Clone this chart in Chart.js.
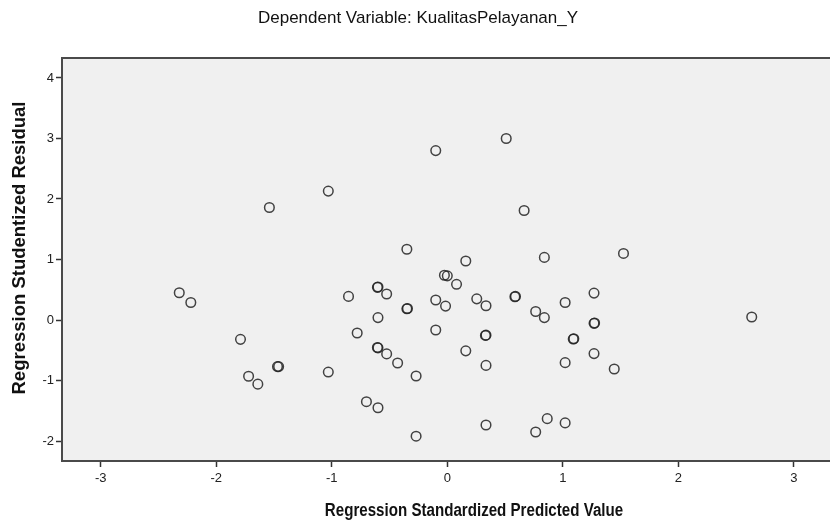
<!DOCTYPE html>
<html>
<head>
<meta charset="utf-8">
<script src="https://cdn.jsdelivr.net/npm/chart.js@4"></script>
<style>
  html, body { margin: 0; padding: 0; background: #fff; overflow: hidden; }
  canvas { display: block; }
</style>
</head>
<body>
<canvas id="chartResidual" width="830" height="527"></canvas>
<script>
// standardized predicted value (x) and studentized residual (y)
var predicted = [
  -2.32, -2.22, -1.79, -1.72, -1.64, -1.54, -1.47, -1.46, -1.03, -1.03,
  -0.855, -0.78, -0.70, -0.605, -0.60, -0.60, -0.605, -0.60, -0.60, -0.525,
  -0.525, -0.43, -0.35, -0.35, -0.345, -0.27, -0.27, -0.10, -0.10, -0.10,
  -0.025, 0.0, -0.015, 0.08, 0.16, 0.16, 0.255, 0.335, 0.335, 0.33,
  0.335, 0.335, 0.51, 0.585, 0.59, 0.665, 0.765, 0.765, 0.84, 0.84,
  0.865, 1.02, 1.02, 1.02, 1.095, 1.09, 1.27, 1.27, 1.275, 1.27,
  1.445, 1.525, 2.635
];
var residual = [
  0.45, 0.29, -0.32, -0.93, -1.06, 1.86, -0.77, -0.77, 2.13, -0.86,
  0.39, -0.215, -1.35, 0.54, 0.545, 0.04, -0.455, -0.46, -1.45, 0.43,
  -0.56, -0.71, 1.17, 0.185, 0.19, -0.925, -1.92, 2.80, 0.33, -0.165,
  0.74, 0.73, 0.23, 0.59, 0.975, -0.51, 0.35, 0.235, -0.25, -0.255,
  -0.75, -1.735, 3.00, 0.385, 0.39, 1.81, 0.14, -1.85, 1.035, 0.04,
  -1.63, 0.29, -0.705, -1.70, -0.31, -0.315, 0.445, -0.055, -0.05, -0.555,
  -0.81, 1.10, 0.05
];
var xTicks = [-3, -2, -1, 0, 1, 2, 3];
var yTicks = [-2, -1, 0, 1, 2, 3, 4];

var mainTitle = "Dependent Variable: KualitasPelayanan_Y";
var xTitle = "Regression Standardized Predicted Value";
var yTitle = "Regression Studentized Residual";

var points = predicted.map(function(v, i) { return {x: v, y: residual[i]}; });

// the original spss export is squeezed sideways, so text is drawn a bit narrow
function narrowText(ctx, text, x, y, squeeze) {
  ctx.save();
  ctx.translate(x, y);
  ctx.scale(squeeze, 1);
  ctx.fillText(text, 0, 0);
  ctx.restore();
}

// grey plot box plus the frame and the text labels
var frame = {
  id: 'frame',
  beforeDatasetsDraw: function(chart) {
    var a = chart.chartArea, ctx = chart.ctx;
    ctx.save();
    ctx.fillStyle = '#f0f0f0';
    ctx.fillRect(a.left, a.top, a.right - a.left + 10, a.bottom - a.top);
    ctx.strokeStyle = '#4a4a4a';
    ctx.lineWidth = 2;
    ctx.beginPath();
    ctx.moveTo(a.right + 10, a.top);
    ctx.lineTo(a.left, a.top);
    ctx.lineTo(a.left, a.bottom);
    ctx.lineTo(a.right + 10, a.bottom);
    ctx.stroke();
    ctx.restore();
  },
  afterDraw: function(chart) {
    var ctx = chart.ctx;
    ctx.save();
    ctx.fillStyle = '#111';
    ctx.textAlign = 'center';
    ctx.textBaseline = 'middle';
    ctx.font = '17px "Liberation Sans", Arial, sans-serif';
    narrowText(ctx, mainTitle, 418, 18, 1.0);
    ctx.font = 'bold 18px "Liberation Sans", Arial, sans-serif';
    narrowText(ctx, xTitle, 474, 511, 0.84);
    ctx.translate(20, 248);
    ctx.rotate(-Math.PI / 2);
    ctx.font = 'bold 18.5px "Liberation Sans", Arial, sans-serif';
    ctx.fillText(yTitle, 0, 0);
    ctx.restore();
  }
};

var ctx = document.getElementById('chartResidual').getContext('2d');
var residualChart = new Chart(ctx, {
  type: 'scatter',
  data: {
    datasets: [{
      label: 'residuals',
      data: points,
      pointStyle: 'circle',
      pointRadius: 4.8,
      pointBorderWidth: 1.5,
      pointBorderColor: 'rgba(35,35,35,0.85)',
      pointBackgroundColor: 'rgba(0,0,0,0)'
    }]
  },
  options: {
    responsive: false,
    animation: false,
    layout: { padding: { top: 58, left: 0, right: 0, bottom: 0 } },
    plugins: {
      legend: { display: false },
      tooltip: { enabled: false }
    },
    scales: {
      x: {
        type: 'linear',
        min: -3.335,
        max: 3.258,
        afterBuildTicks: function(axis) {
          axis.ticks = xTicks.map(function(v) { return {value: v}; });
        },
        afterFit: function(axis) {
          axis.height = 66;
          axis.paddingLeft = 0;
          axis.paddingRight = 0;
        },
        grid: { drawOnChartArea: false, tickLength: 6, tickColor: '#333', tickWidth: 1.5 },
        border: { display: false },
        ticks: {
          color: '#222',
          padding: 4,
          maxRotation: 0,
          font: { family: '"Liberation Sans", Arial, sans-serif', size: 13 }
        }
      },
      y: {
        type: 'linear',
        min: -2.33,
        max: 4.33,
        afterBuildTicks: function(axis) {
          axis.ticks = yTicks.map(function(v) { return {value: v}; });
        },
        afterFit: function(axis) {
          axis.width = 62;
          axis.paddingTop = 0;
          axis.paddingBottom = 0;
        },
        grid: { drawOnChartArea: false, tickLength: 6, tickColor: '#333', tickWidth: 1.5 },
        border: { display: false },
        ticks: {
          color: '#222',
          padding: 2,
          font: { family: '"Liberation Sans", Arial, sans-serif', size: 13 }
        }
      }
    }
  },
  plugins: [frame]
});
</script>
</body>
</html>
